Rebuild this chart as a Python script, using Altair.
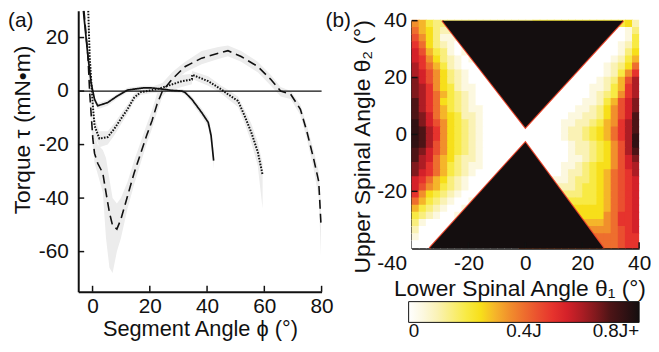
import altair as alt
import pandas as pd

FONT = "Liberation Sans"
INK = "#111111"
BAND = "#ececec"

# ---------------- panel (a): torque vs segment angle ----------------
SOLID_PHI = [-3.2, -1.6, -0.5, 0.7, 1.8, 5.3, 8.7, 12.2, 17.9, 20.2, 23.2, 27.8, 31.2, 32.4, 34.7, 38.1, 40.4, 41.4, 42.3]
SOLID_TAU = [30.0, 12.9, 3.0, -3.1, -5.5, -4.3, -1.8, 0.4, 1.2, 1.2, 0.9, 0.25, 0.0, -0.6, -3.1, -8.0, -11.7, -16.6, -26.0]
SOLID_LO = [27, 11, 1.5, -4.5, -6.8, -5.5, -2.8, -0.4, 0.5, 0.5, 0.2, -0.5, -0.8, -1.5, -4.5, -9.5, -13.5, -19, -29]
SOLID_HI = [33, 15, 4.5, -2, -4.5, -3.3, -1, 1.2, 2, 2, 1.7, 1, 0.8, 0.3, -2, -6.5, -10, -14, -23]

DOTTED_PHI = [-1.5, -1.0, 0.1, 0.7, 2.4, 5.3, 7.6, 9.9, 12.2, 14.5, 16.8, 20.2, 23.2, 27.8, 31.2, 34.7, 34.8,
              40.4, 45.0, 47.3, 50.8, 53.1, 55.4, 57.7, 59.4]
DOTTED_TAU = [30, 12.9, -5.5, -12.9, -17.8, -17.2, -14.1, -10.4, -6.8, -2.5, -0.4, 0.25, 0.9, 2.5, 3.7, 4.3, 6.1,
              3.7, 0.6, -1.2, -3.7, -9.2, -15.3, -22.7, -31.3]
DOTTED_LO = [26, 10, -8, -16, -21, -20, -16.5, -12.5, -8.5, -4, -1.5, -0.8, -0.5, 0.5, 1.5, 2.5, 4.5,
             2, -1, -3, -6, -12, -19, -28, -44]
DOTTED_HI = [34, 16, -3, -10, -15, -15, -12, -8.5, -5, -1, 0.8, 1.5, 2.5, 4.5, 6, 6.5, 7.5,
             5.5, 2, 0.5, -2, -7, -12, -19, -27]

DASHED_PHI = [-3.0, -1.6, -1.0, 0.1, 0.7, 1.8, 3.6, 4.7, 5.9, 7.0, 8.5, 9.9, 12.2, 14.5, 16.8, 19.1, 20.8, 22.5,
              24.4, 27.8, 31.2, 32.4, 38.1, 43.9, 47.3, 51.9, 57.7, 62.3, 65.7, 69.2, 72.6, 74.9, 77.2, 79.0, 79.8]
DASHED_TAU = [30, 12.9, -0.6, -17.8, -23.3, -27, -30.7, -38, -45.4, -50.3, -51.6, -47.9, -39.3, -30.7, -23.3, -16,
              -11, -5, 0, 4.4, 8, 9.2, 12.3, 14.1, 15.1, 12.9, 9.2, 4.3, 0, -1.2, -6.8, -15.3, -25.2, -33.8, -50.0]
DASHED_LO = [25, 9, -4, -21, -27, -31, -38, -55, -66, -68, -60, -55, -44, -35, -27, -19, -14, -8,
             -2, 2, 6, 7, 10, 12, 13, 11, 7, 2, -2, -3, -9, -18, -29, -40, -62]
DASHED_HI = [35, 16, 3, -13, -16, -20, -22, -25, -33, -40, -42, -40, -34, -26, -19, -12, -7, -1,
             3, 7, 10, 11, 15, 16.5, 17, 15, 11, 6, 1.5, 0, -5, -13, -22, -30, -42]

X_TICKS_A = [0, 20, 40, 60, 80]
Y_TICKS_A = [20, 0, -20, -40, -60]
PHI_DOMAIN = [-5, 80]
TAU_DOMAIN = [-75, 30]
ZERO_LINE = [0]
PANEL_LABELS = ["(a)", "(b)"]

# ---------------- panel (b): energy map ----------------
THETA_CENTRES = [-38.75, -36.25, -33.75, -31.25, -28.75, -26.25, -23.75, -21.25, -18.75, -16.25, -13.75,
                 -11.25, -8.75, -6.25, -3.75, -1.25, 1.25, 3.75, 6.25, 8.75, 11.25, 13.75, 16.25, 18.75,
                 21.25, 23.75, 26.25, 28.75, 31.25, 33.75, 36.25, 38.75]
CELL = 2.5
LEVELS = "0123456789abcdefg"   # level index * 0.05 J ; 'g' = inside the 0.8 J+ (black) region
LEVEL_J = 0.05
# rows from top (theta2 = +38.75) to bottom (theta2 = -38.75), columns theta1 = -38.75 .. 38.75
HEAT_ROWS = [
    "76433" + "g" * 24 + "452",
    "865322" + "g" * 22 + "0013",
    "975311" + "g" * 21 + "00014",
    "a853210" + "g" * 19 + "000124",
    "b9643101" + "g" * 18 + "000135",
    "ba7532101" + "g" * 16 + "0001246",
    "ca8642100" + "g" * 15 + "00012358",
    "cb97532100" + "g" * 13 + "00001247a",
    "db975321000" + "g" * 11 + "000012369c",
    "dca754211000" + "g" * 9 + "000011246ac",
    "dca8643210000" + "g" * 7 + "0000012347ac",
    "eca8543210000" + "g" * 6 + "00000112469bd",
    "eca86432110000" + "g" * 4 + "000001123579bd",
    "edb865422100000" + "g" * 2 + "0000011223579be",
    "fdb9754321000000" + "0000011223467ace",
    "feca754321000000" + "0000012234568ace",
    "feca754321000000" + "0000012234568acf",
    "fec9754321000000" + "00000012234579cf",
    "edb975432100000" + "g" * 2 + "0000012234579ce",
    "ecb86532210000" + "g" * 4 + "000011234579bd",
    "dca8643211000" + "g" * 6 + "00112345579bc",
    "dba864321000" + "g" * 7 + "00122345689ac",
    "ba865321000" + "g" * 9 + "1123345689ab",
    "b976432100" + "g" * 11 + "223445689ab",
    "a75432100" + "g" * 12 + "333445689ab",
    "864321001" + "g" * 13 + "44445689ab",
    "64321001" + "g" * 15 + "5555689ab",
    "4321001" + "g" * 17 + "55578aab",
    "310000" + "g" * 18 + "66678aab",
    "20000" + "g" * 20 + "77789ab",
    "1000" + "g" * 22 + "8889aa",
    "000" + "g" * 24 + "889aa",
]
# straight-edged black (0.8 J+) wedges, corner points (theta1, theta2)
TOP_WEDGE_T1 = [-29.2, 0.0, 34.4]
TOP_WEDGE_T2 = [40.0, 2.4, 40.0]
BOTTOM_WEDGE_T1 = [-33.7, 0.0, 27.5]
BOTTOM_WEDGE_T2 = [-40.0, -2.8, -40.0]

CB_STOPS = [0, 0.08, 0.24, 0.30, 0.36, 0.44, 0.53, 0.62, 0.70, 0.80]
CB_COLORS = ["#ffffff", "#faf3cc", "#f7e717", "#f5b52a", "#f0872c", "#eb5530", "#e3222b", "#9e1c22",
             "#4d1416", "#140e0f"]
FRINGE = "#e8452c"
CB_TICKS = [0, 0.4, 0.8]
X_TICKS_B = [-40, -20, 0, 20, 40]
Y_TICKS_B = [-20, 0, 20, 40]
INNER_X_TICKS_B = [-20, 0, 20, 40]
INNER_Y_TICKS_B = [40, 20, 0, -20]
THETA_DOMAIN = [-40, 40]

# ---------------- layout (pixels inside the single plot frame) ----------------
W_TOTAL, H_TOTAL = 567, 284          # whole frame; panel (a) uses the left part
A_RANGE_X = [0, 246]
A_RANGE_Y = [284, 0]
B_RANGE_X = [337, 567]
B_RANGE_Y = [240, 10]
LABEL_EXPR = "'' + datum.value"

# ---------------- panel (a) ----------------
def series_df(phi, tau, lo, hi):
    return pd.DataFrame({"phi": phi, "tau": tau, "lo": lo, "hi": hi, "i": list(range(len(phi)))})

d_solid = series_df(SOLID_PHI, SOLID_TAU, SOLID_LO, SOLID_HI)
d_dot = series_df(DOTTED_PHI, DOTTED_TAU, DOTTED_LO, DOTTED_HI)
d_dash = series_df(DASHED_PHI, DASHED_TAU, DASHED_LO, DASHED_HI)

xs_a = alt.Scale(domain=PHI_DOMAIN, range=A_RANGE_X, nice=False, zero=False)
ys_a = alt.Scale(domain=TAU_DOMAIN, range=A_RANGE_Y, nice=False, zero=False)


def xa(field="phi"):
    return alt.X(f"{field}:Q", scale=xs_a, title="Segment Angle ϕ (°)",
                 axis=alt.Axis(orient="bottom", values=X_TICKS_A, labelExpr=LABEL_EXPR,
                               labelPadding=4, titlePadding=2, labelFlush=False, titleFontSize=22))


def ya(field="tau"):
    return alt.Y(f"{field}:Q", scale=ys_a, title="Torque τ (mN•m)", stack=False,
                 axis=alt.Axis(orient="left", values=Y_TICKS_A, labelExpr=LABEL_EXPR,
                               labelPadding=10, titlePadding=4, titleY=120))


layers_a = []
for d in (d_dash, d_dot, d_solid):
    layers_a.append(alt.Chart(d).mark_area(color=BAND, opacity=1, clip=True).encode(
        x=xa(), y=ya("lo"), y2="hi"))

zero_df = pd.DataFrame({"phi": [PHI_DOMAIN[0]], "phi2": [PHI_DOMAIN[1]], "tau": ZERO_LINE})
layers_a.append(alt.Chart(zero_df).mark_rule(color=INK, strokeWidth=1.2).encode(
    x=xa(), x2="phi2:Q", y=ya()))

for d, dash, sw in ((d_dash, [9, 5], 1.6), (d_dot, [1.6, 1.4], 2.0), (d_solid, [1, 0], 1.7)):
    layers_a.append(alt.Chart(d).mark_line(color=INK, strokeWidth=sw, strokeDash=dash, clip=True).encode(
        x=xa(), y=ya(), order="i:Q"))

layers_a.append(alt.Chart(pd.DataFrame({"tau": Y_TICKS_A})).mark_rule(color=INK, strokeWidth=1.5).encode(
    y=ya(), x=alt.value(0), x2=alt.value(6)))
layers_a.append(alt.Chart(pd.DataFrame({"phi": X_TICKS_A})).mark_rule(color=INK, strokeWidth=1.5).encode(
    x=xa(), y=alt.value(A_RANGE_Y[0]), y2=alt.value(A_RANGE_Y[0] - 6)))

lab = pd.DataFrame({"t": PANEL_LABELS})
layers_a.append(alt.Chart(lab).transform_filter("datum.t == '(a)'").mark_text(
    align="left", baseline="top", font=FONT, fontSize=21, color=INK).encode(
    text="t:N", x=alt.value(-71), y=alt.value(-1)))
layers_a.append(alt.Chart(lab).transform_filter("datum.t == '(b)'").mark_text(
    align="left", baseline="top", font=FONT, fontSize=21, color=INK).encode(
    text="t:N", x=alt.value(250), y=alt.value(-1)))

layer_a = alt.layer(*layers_a)

# ---------------- panel (b) ----------------
def row_levels(row):
    """Cells inside the black wedge take the colour found at the wedge edge in the same row;
    the wedge itself is drawn on top as a straight-edged polygon."""
    keep = [i for i, ch in enumerate(row) if ch != "g"]
    out = []
    for i, ch in enumerate(row):
        if ch == "g":
            j = min(keep, key=lambda k: (abs(k - i), k))
            ch = row[j]
        out.append(LEVELS.index(ch) * LEVEL_J)
    return out


OVERLAP = 0.3   # small overlap so neighbouring cells leave no hairline seams
recs = []
for r, row in enumerate(HEAT_ROWS):
    t2 = THETA_CENTRES[len(THETA_CENTRES) - 1 - r]
    for c, e in enumerate(row_levels(row)):
        t1 = THETA_CENTRES[c]
        recs.append({"x0": t1 - CELL / 2, "x1": t1 + CELL / 2 + OVERLAP,
                     "y0": t2 - CELL / 2, "y1": t2 + CELL / 2 + OVERLAP, "E": e})
d_heat = pd.DataFrame(recs)

d_top = pd.DataFrame({"x0": TOP_WEDGE_T1, "y0": TOP_WEDGE_T2, "y1": [THETA_DOMAIN[1]] * 3})
d_bot = pd.DataFrame({"x0": BOTTOM_WEDGE_T1, "y0": BOTTOM_WEDGE_T2, "y1": [THETA_DOMAIN[0]] * 3})

xs_b = alt.Scale(domain=THETA_DOMAIN, range=B_RANGE_X, nice=False, zero=False)
ys_b = alt.Scale(domain=THETA_DOMAIN, range=B_RANGE_Y, nice=False, zero=False)


def xb():
    return alt.X("x0:Q", scale=xs_b, title="Lower Spinal Angle θ₁ (°)",
                 axis=alt.Axis(orient="bottom", offset=B_RANGE_Y[0] - A_RANGE_Y[0], values=X_TICKS_B,
                               labelExpr=LABEL_EXPR, labelFlush=False, labelPadding=5, titlePadding=4,
                               titleX=446,
                               labelAlign={"condition": {"test": "datum.value < -30", "value": "right"},
                                           "value": "center"},
                               labelOffset={"condition": {"test": "datum.value < -30", "value": -5},
                                            "value": 0}))


def yb(field="y0"):
    return alt.Y(f"{field}:Q", scale=ys_b, title="Upper Spinal Angle θ₂ (°)", stack=False,
                 axis=alt.Axis(orient="left", offset=-B_RANGE_X[0], values=Y_TICKS_B, labelExpr=LABEL_EXPR,
                               labelFlush=False, labelPadding=5, titlePadding=2, titleY=137))


cscale = alt.Scale(domain=CB_STOPS, range=CB_COLORS, interpolate="rgb", clamp=True)
heat = alt.Chart(d_heat).mark_rect(clip=True).encode(
    x=xb(), x2="x1:Q", y=yb(), y2="y1:Q",
    color=alt.Color("E:Q", scale=cscale, title=None,
                    legend=alt.Legend(type="gradient", orient="none", legendX=334, legendY=294,
                                      direction="horizontal",
                                      gradientLength=233, gradientThickness=21, values=CB_TICKS,
                                      labelExpr="datum.value == 0 ? '0' : (datum.value < 0.6 ? '0.4J' : '0.8J+')",
                                      labelFont=FONT, labelFontSize=19, labelColor=INK, labelOffset=0,
                                      gradientStrokeColor=INK, gradientStrokeWidth=1, padding=0)),
)
wedge_layers = []
for d in (d_top, d_bot):
    wedge_layers.append(alt.Chart(d).mark_line(color=FRINGE, strokeWidth=2.2, clip=True).encode(
        x=xb(), y=yb()))
    wedge_layers.append(alt.Chart(d).mark_area(color=CB_COLORS[-1], opacity=1, clip=True).encode(
        x=xb(), y=yb(), y2="y1:Q"))

tick_bx = alt.Chart(pd.DataFrame({"x0": INNER_X_TICKS_B})).mark_rule(color=INK, strokeWidth=1.5).encode(
    x=xb(), y=alt.value(B_RANGE_Y[0]), y2=alt.value(B_RANGE_Y[0] - 6))
tick_by = alt.Chart(pd.DataFrame({"y0": INNER_Y_TICKS_B})).mark_rule(color=INK, strokeWidth=1.5).encode(
    y=yb(), x=alt.value(B_RANGE_X[0]), x2=alt.value(B_RANGE_X[0] + 6))

layer_b = alt.layer(heat, *wedge_layers, tick_bx, tick_by)

chart = alt.layer(layer_a, layer_b).resolve_scale(
    x="independent", y="independent"
).properties(width=W_TOTAL, height=H_TOTAL, padding=0).configure_view(
    strokeWidth=0
).configure_axis(
    domainColor=INK, domainWidth=2, ticks=False, grid=False,
    labelFont=FONT, titleFont=FONT, labelFontSize=21, titleFontSize=23,
    titleFontWeight="normal", labelColor=INK, titleColor=INK,
)

chart.save("out.html", embed_options={"renderer": "svg", "actions": False})
